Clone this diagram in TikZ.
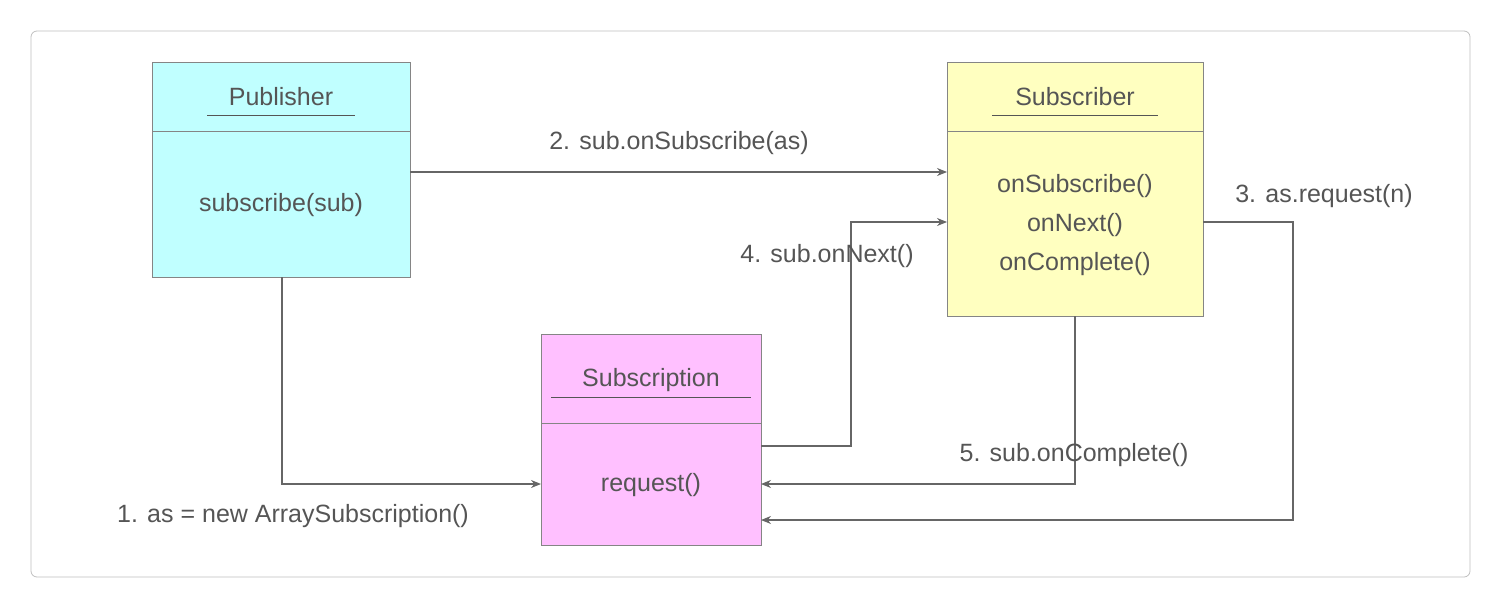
\documentclass[tikz,border=0pt]{standalone}
\usepackage{fontspec}
\setmainfont{Liberation Sans}
\usetikzlibrary{arrows.meta}
\definecolor{txt}{HTML}{555555}
\definecolor{ln}{HTML}{666666}
\definecolor{cy}{HTML}{C0FFFF}
\definecolor{ye}{HTML}{FFFFC0}
\definecolor{mg}{HTML}{FFC0FF}
\begin{document}
\begin{tikzpicture}[x=1pt,y=-1pt,
  box/.style={draw=ln!80,line width=0.8pt},
  lbl/.style={text=txt,font=\fontsize{25}{30}\selectfont,inner sep=0pt},
  arr/.style={draw=ln,line width=1.2pt,-{Stealth[length=10pt,width=8pt]}}]
\useasboundingbox (0,0) rectangle (1501,607);
\draw[draw=black!25,line width=0.8pt,rounded corners=6pt] (31,31) rectangle (1470,577);
% Publisher
\draw[box,fill=cy] (152,62) rectangle (410,277);
\draw[box] (152,131) -- (410,131);
\node[lbl] (pt) at (281,97) {Publisher};
\draw[txt] (207,115) -- (355,115);
\node[lbl] (pb) at (281,205) {subscribe(sub)};
\coordinate (pB) at (282,277);
\coordinate (pR) at (410,172);
% Subscriber
\draw[box,fill=ye] (947,62) rectangle (1203,316);
\draw[box] (947,131) -- (1203,131);
\node[lbl] (st) at (1075,97) {Subscriber};
\draw[txt] (992,115) -- (1158,115);
\node[lbl] at (1075,186) {onSubscribe()};
\node[lbl] at (1075,225) {onNext()};
\node[lbl] at (1075,264) {onComplete()};
\coordinate (sL1) at (947,172);
\coordinate (sL2) at (947,222);
\coordinate (sR) at (1203,222);
\coordinate (sB) at (1075,316);
% Subscription
\draw[box,fill=mg] (541,334) rectangle (761,545);
\draw[box] (541,423) -- (761,423);
\node[lbl] at (651,380) {Subscription};
\draw[txt] (551,397) -- (751,397);
\node[lbl] at (651,485) {request()};
\coordinate (bL) at (541,484);
\coordinate (bR1) at (761,446);
\coordinate (bR2) at (761,484);
\coordinate (bR3) at (761,520);
% arrows
\draw[arr] (pB) |- (bL);
\node[lbl] at (293,516) {1. as = new ArraySubscription()};
\draw[arr] (pR) -- (sL1);
\node[lbl] at (679,143) {2. sub.onSubscribe(as)};
\draw[arr] (sR) -- (1293,222) |- (bR3);
\node[lbl] at (1324,196) {3. as.request(n)};
\draw[arr] (bR1) -- (851,446) |- (sL2);
\node[lbl] at (827,256) {4. sub.onNext()};
\draw[arr] (sB) |- (bR2);
\node[lbl] at (1074,455) {5. sub.onComplete()};
\end{tikzpicture}
\end{document}
